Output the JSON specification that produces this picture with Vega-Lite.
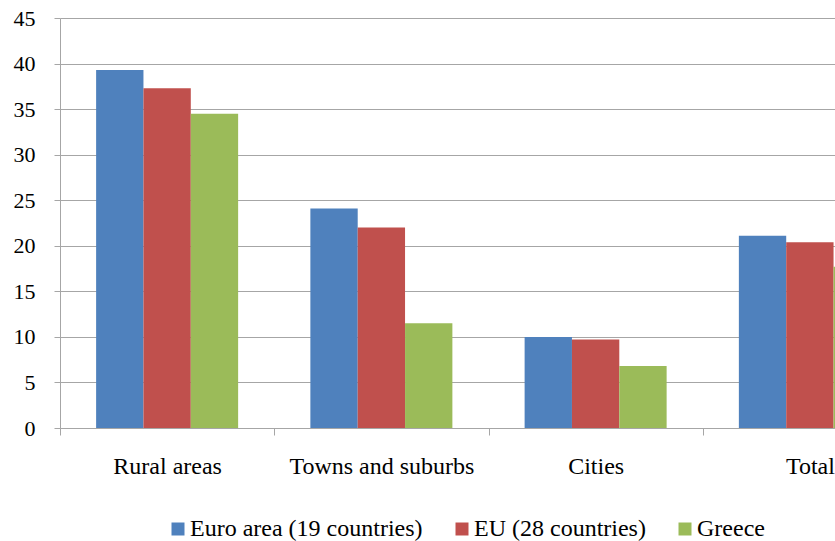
{
  "$schema": "https://vega.github.io/schema/vega-lite/v6.json",
  "autosize": {"type": "none"},
  "padding": {"left": 60, "top": 18, "right": 0, "bottom": 113},
  "width": 775,
  "height": 410,
  "background": "white",
  "config": {
    "view": {"stroke": null},
    "font": "Liberation Serif"
  },
  "data": {
    "values": [
      {"area": "Rural areas", "series": "Euro area (19 countries)", "value": 39.3},
      {"area": "Rural areas", "series": "EU (28 countries)", "value": 37.3},
      {"area": "Rural areas", "series": "Greece", "value": 34.5},
      {"area": "Towns and suburbs", "series": "Euro area (19 countries)", "value": 24.1},
      {"area": "Towns and suburbs", "series": "EU (28 countries)", "value": 22.0},
      {"area": "Towns and suburbs", "series": "Greece", "value": 11.5},
      {"area": "Cities", "series": "Euro area (19 countries)", "value": 10.0},
      {"area": "Cities", "series": "EU (28 countries)", "value": 9.7},
      {"area": "Cities", "series": "Greece", "value": 6.8},
      {"area": "Total", "series": "Euro area (19 countries)", "value": 21.1},
      {"area": "Total", "series": "EU (28 countries)", "value": 20.4},
      {"area": "Total", "series": "Greece", "value": 17.7}
    ]
  },
  "mark": {"type": "bar", "clip": true},
  "encoding": {
    "x": {
      "field": "area",
      "type": "nominal",
      "sort": ["Rural areas", "Towns and suburbs", "Cities", "Total"],
      "scale": {"range": [0, 857], "paddingInner": 0, "paddingOuter": 0},
      "axis": {
        "title": null,
        "labelAngle": 0,
        "tickBand": "extent",
        "domainColor": "#a6a6a6",
        "tickColor": "#a6a6a6",
        "tickSize": 7,
        "labelPadding": 19,
        "labelFont": "Liberation Serif",
        "labelFontSize": 24,
        "labelColor": "black",
        "labelLimit": 400,
        "grid": false
      }
    },
    "xOffset": {
      "field": "series",
      "type": "nominal",
      "sort": ["Euro area (19 countries)", "EU (28 countries)", "Greece"],
      "scale": {"paddingInner": 0, "paddingOuter": 0.763}
    },
    "y": {
      "field": "value",
      "type": "quantitative",
      "scale": {"domain": [0, 45], "nice": false},
      "axis": {
        "title": null,
        "values": [0, 5, 10, 15, 20, 25, 30, 35, 40, 45],
        "grid": true,
        "gridColor": "#a6a6a6",
        "domainColor": "#a6a6a6",
        "tickColor": "#a6a6a6",
        "tickSize": 6,
        "labelPadding": 19,
        "labelFont": "Liberation Serif",
        "labelFontSize": 22,
        "labelColor": "black"
      }
    },
    "color": {
      "field": "series",
      "type": "nominal",
      "scale": {
        "domain": ["Euro area (19 countries)", "EU (28 countries)", "Greece"],
        "range": ["#4F81BD", "#C0504D", "#9BBB59"]
      },
      "legend": {
        "title": null,
        "orient": "none",
        "legendX": 106,
        "legendY": 499,
        "direction": "horizontal",
        "symbolType": "square",
        "symbolSize": 169,
        "symbolStrokeWidth": 0,
        "symbolOpacity": 1,
        "labelFont": "Liberation Serif",
        "labelFontSize": 24,
        "labelColor": "black",
        "labelOffset": 0,
        "labelLimit": 400,
        "columnPadding": 27,
        "padding": 0
      }
    }
  }
}
